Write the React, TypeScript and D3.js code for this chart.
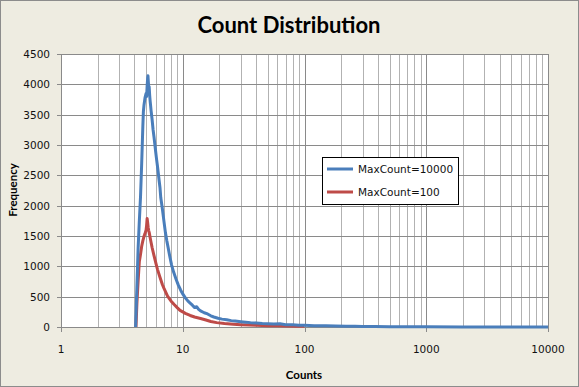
import React from "react";
import * as d3 from "d3";

// Blue series: MaxCount=10000
const blueX = [4.1, 4.2, 4.3, 4.4, 4.5, 4.6, 4.7, 4.75, 4.8, 4.9, 5.0, 5.05, 5.1, 5.15, 5.18, 5.22, 5.26, 5.3, 5.35, 5.4, 5.45, 5.5, 5.6, 5.7, 5.8, 5.9, 6.0, 6.1, 6.2, 6.3, 6.4, 6.5, 6.6, 6.7, 6.8, 7.0, 7.2, 7.4, 7.6, 7.8, 8.1, 8.4, 8.8, 9.2, 9.6, 10, 10.5, 11, 11.5, 12, 12.5, 13, 13.5, 14, 15, 16, 17, 18, 19.5, 21, 23, 25, 27, 30, 33, 36, 40, 45, 50, 56, 63, 70, 80, 90, 100, 120, 150, 180, 220, 260, 300, 380, 500, 700, 1000, 2000, 5000, 10000];
const blueY = [0, 650, 1300, 1750, 2150, 2700, 3300, 3550, 3650, 3780, 3850, 3800, 3980, 4100, 4140, 4030, 3950, 3960, 3820, 3720, 3640, 3560, 3420, 3260, 3140, 3010, 2880, 2760, 2650, 2530, 2410, 2300, 2130, 2040, 1950, 1750, 1560, 1420, 1300, 1180, 1020, 910, 790, 690, 610, 545, 480, 430, 395, 360, 320, 335, 290, 265, 235, 215, 185, 165, 145, 130, 118, 105, 98, 88, 80, 72, 66, 58, 55, 48, 52, 38, 36, 30, 28, 22, 20, 16, 14, 12, 10, 8, 6, 4, 3, 2, 1, 0];

// Red series: MaxCount=100
const redX = [4.13, 4.2, 4.3, 4.4, 4.5, 4.6, 4.7, 4.8, 4.9, 5.0, 5.05, 5.1, 5.15, 5.2, 5.25, 5.3, 5.4, 5.5, 5.6, 5.8, 6.0, 6.2, 6.5, 6.8, 7.0, 7.5, 8.0, 8.5, 9.0, 9.5, 10, 10.5, 11.5, 12.5, 14, 15.5, 17, 19, 22, 26, 30, 35, 40, 50, 60, 70, 85, 100];
const redY = [0, 380, 760, 1080, 1200, 1330, 1420, 1490, 1540, 1600, 1680, 1790, 1720, 1640, 1590, 1560, 1470, 1390, 1310, 1180, 1060, 950, 820, 700, 640, 510, 430, 370, 320, 275, 250, 225, 190, 165, 140, 115, 90, 72, 58, 46, 38, 32, 28, 22, 19, 16, 14, 12];

const yTicks = [0, 500, 1000, 1500, 2000, 2500, 3000, 3500, 4000, 4500];
const xTicks = [1, 10, 100, 1000, 10000];
const seriesNames = ["MaxCount=10000", "MaxCount=100"];
const seriesColors = ["#4a7ebb", "#be4b48"];

const W = 579;
const H = 387;
const left = 61;
const right = 548;
const top = 54;
const bottom = 327;

export default function App() {
  const x = d3.scaleLog().domain([1, 10000]).range([left, right]);
  const y = d3.scaleLinear().domain([0, 4500]).range([bottom, top]);

  const minor: number[] = [];
  for (let p = 1; p < 10000; p *= 10) {
    for (let k = 2; k <= 9; k++) minor.push(p * k);
  }

  const line = d3
    .line<[number, number]>()
    .x((d) => x(d[0]))
    .y((d) => y(d[1]));

  const blue = blueX.map((v, i) => [v, blueY[i]] as [number, number]);
  const red = redX.map((v, i) => [v, redY[i]] as [number, number]);

  const tickFont = "'DejaVu Sans', sans-serif";
  const boldFont = "Lato, 'DejaVu Sans', sans-serif";

  return (
    <svg
      width={W}
      height={H}
      style={{ position: "absolute", left: 0, top: 0 }}
    >
      <rect x={0.5} y={0.5} width={W - 1} height={H - 1} fill="#eeece1" stroke="#8c8c8c" />
      <rect x={left} y={top} width={right - left} height={bottom - top} fill="#ffffff" />

      {/* minor vertical gridlines */}
      {minor.map((m) => (
        <line key={"m" + m} x1={Math.round(x(m)) + 0.5} x2={Math.round(x(m)) + 0.5} y1={top} y2={bottom} stroke="#b2b2b2" />
      ))}
      {/* major vertical gridlines */}
      {xTicks.map((t) => (
        <line key={"v" + t} x1={Math.round(x(t)) + 0.5} x2={Math.round(x(t)) + 0.5} y1={top} y2={bottom + 5} stroke="#8a8a8a" />
      ))}
      {/* horizontal gridlines */}
      {yTicks.map((t) => (
        <line key={"h" + t} x1={left - 4} x2={right} y1={Math.round(y(t)) + 0.5} y2={Math.round(y(t)) + 0.5} stroke="#8a8a8a" />
      ))}

      {/* series */}
      <path d={line(red) || ""} fill="none" stroke={seriesColors[1]} strokeWidth={3} strokeLinejoin="round" />
      <path d={line(blue) || ""} fill="none" stroke={seriesColors[0]} strokeWidth={3} strokeLinejoin="round" />

      {/* y tick labels */}
      {yTicks.map((t) => (
        <text key={"yl" + t} x={50} y={y(t) + 4} textAnchor="end" fontFamily={tickFont} fontSize={10.5} fill="#111">
          {t}
        </text>
      ))}
      {/* x tick labels */}
      {xTicks.map((t) => (
        <text key={"xl" + t} x={x(t)} y={353} textAnchor="middle" fontFamily={tickFont} fontSize={10.5} fill="#111">
          {t}
        </text>
      ))}

      <text x={289} y={33} textAnchor="middle" fontFamily={boldFont} fontWeight="bold" fontSize={22} fill="#000">
        Count Distribution
      </text>
      <text x={304} y={379} textAnchor="middle" fontFamily={boldFont} fontWeight="bold" fontSize={11.5} fill="#000">
        Counts
      </text>
      <text
        transform={`translate(17,190) rotate(-90)`}
        textAnchor="middle"
        fontFamily={boldFont}
        fontWeight="bold"
        fontSize={11.5}
        fill="#000"
      >
        Frequency
      </text>

      {/* legend */}
      <rect x={322.5} y={157.5} width={136} height={47} fill="#ffffff" stroke="#000" />
      {seriesNames.map((n, i) => (
        <g key={n}>
          <line x1={327} x2={353} y1={169 + i * 23} y2={169 + i * 23} stroke={seriesColors[i]} strokeWidth={3} />
          <text x={358} y={173 + i * 23} fontFamily={tickFont} fontSize={10.5} fill="#111">
            {n}
          </text>
        </g>
      ))}
    </svg>
  );
}
